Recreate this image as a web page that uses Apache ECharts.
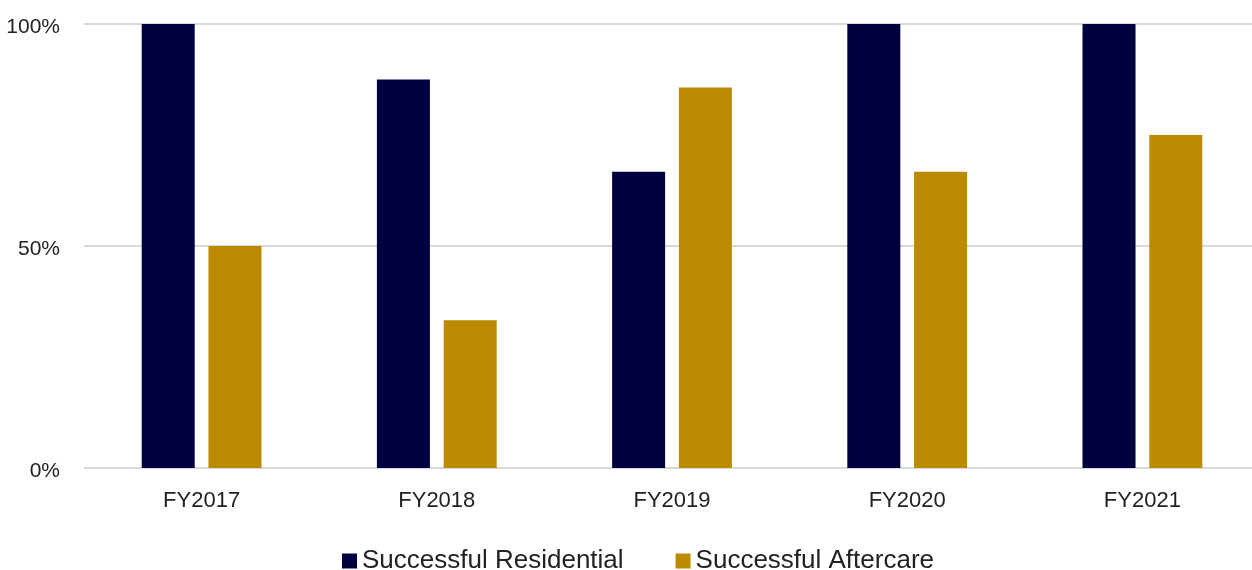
<!DOCTYPE html>
<html>
<head>
<meta charset="utf-8">
<script src="https://cdn.jsdelivr.net/npm/echarts@6/dist/echarts.min.js"></script>
<style>
  html, body { margin: 0; padding: 0; background: #ffffff; overflow: hidden; }
  /* the plot area runs a little past the right edge of the window */
  #chart { width: 1260px; height: 570px; }
</style>
</head>
<body>
<div id="chart"></div>
<script>
// Fiscal years on the category axis
var years = ['FY2017', 'FY2018', 'FY2019', 'FY2020', 'FY2021'];
// Completion rates, in percent
var residential = [100, 87.5, 66.7, 100, 100];
var aftercare = [50, 33.3, 85.7, 66.7, 75];
// Value-axis ticks
var yTicks = [0, 50, 100];

var chart = echarts.init(document.getElementById('chart'), null, { renderer: 'canvas' });
var font = 'Liberation Sans, Arial, sans-serif';

chart.setOption({
  animation: false,
  backgroundColor: '#ffffff',
  grid: { left: 84, right: 0, top: 24, bottom: 102, containLabel: false },
  legend: {
    data: ['Successful Residential', 'Successful Aftercare'],
    left: 337,
    top: 543,
    icon: 'rect',
    itemWidth: 15,
    itemHeight: 15,
    itemGap: 52,
    textStyle: { fontFamily: font, fontSize: 26, color: '#222222' }
  },
  xAxis: {
    type: 'category',
    data: years,
    axisLine: { show: false },
    axisTick: { show: false },
    axisLabel: { fontFamily: font, fontSize: 22, color: '#222222', margin: 22 }
  },
  yAxis: {
    type: 'value',
    min: yTicks[0],
    max: yTicks[yTicks.length - 1],
    interval: yTicks[1] - yTicks[0],
    axisLine: { show: false },
    axisTick: { show: false },
    axisLabel: {
      fontFamily: font, fontSize: 21, color: '#222222', margin: 24,
      verticalAlign: 'top', lineHeight: 6, formatter: '{value}%'
    },
    splitLine: { lineStyle: { color: '#d9d9d9', width: 2 } }
  },
  series: [
    {
      name: 'Successful Residential',
      type: 'bar',
      data: residential,
      barWidth: 53,
      barGap: '26%',
      itemStyle: { color: '#000040' }
    },
    {
      name: 'Successful Aftercare',
      type: 'bar',
      data: aftercare,
      barWidth: 53,
      itemStyle: { color: '#BB8A00' }
    }
  ]
});
</script>
</body>
</html>
